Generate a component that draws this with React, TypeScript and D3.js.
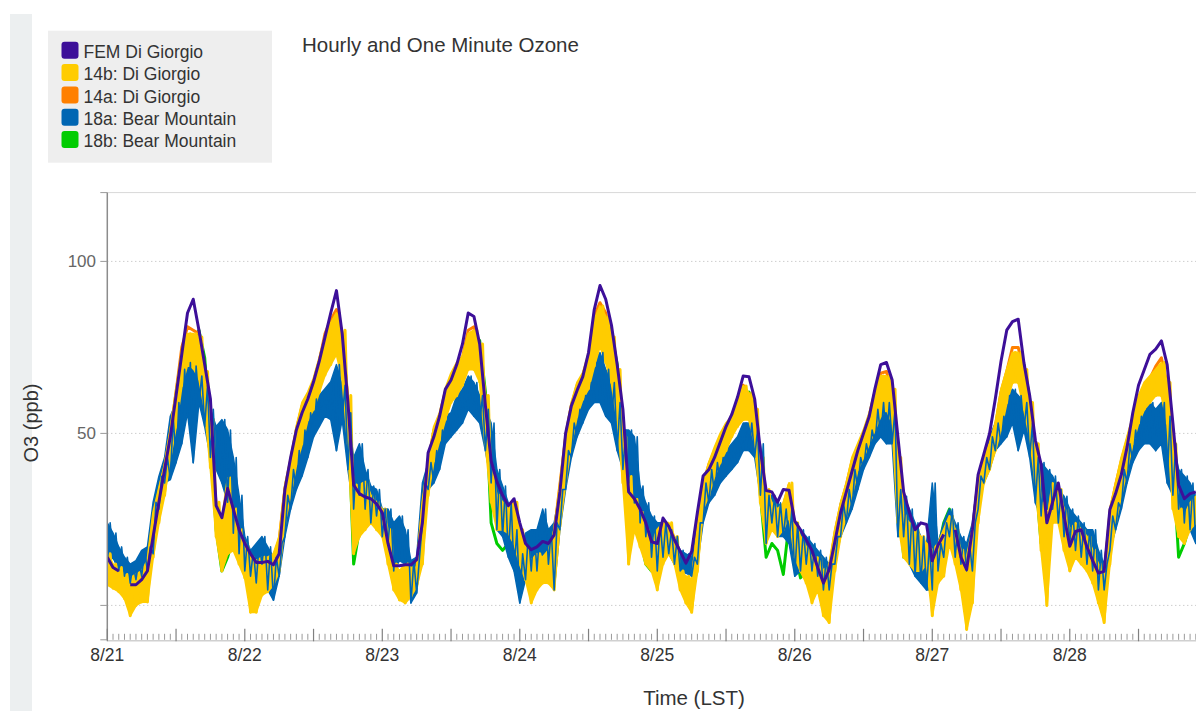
import React from 'react';
import * as d3 from 'd3';

// Day labels for the x axis (one per midnight, starting 8/21 00:00 LST)
const dayLabels = ['8/21', '8/22', '8/23', '8/24', '8/25', '8/26', '8/27', '8/28'];

// FEM Di Giorgio, hourly ozone (ppb), hour 0 = 8/21 00:00; null = missing hour
const femDiGiorgio: (number | null)[] = [
  14, 11, 10, null, 6, 6, 7.5, 10, 20, 30,
  39.5, 49, 61, 73, 85, 89, 80, 70, 60, 29,
  25.5, 34, 28, 22, 18, 15, 12.5, 12.5, 12.8, 11.8,
  15, 33.7, 43, 51, 56, 60, 65, 71, 78, 85,
  91.5, 79, 59, 35, 32.5, 31.5, 31, 29.5, 27, 18,
  11.5, 11.5, 11.8, 11.8, 13.3, 24, 44.4, 49, 55, 62.8,
  65.5, 70, 76, 85, 84, 76, 58, 42, 36, 32,
  29, 31, 24, 18, 16.2, 17, 18.6, 18, 20.5, 33,
  50, 58, 62.5, 66.5, 73.5, 86, 93, 89, 81.5, 70,
  57, 33, 31, 28, 24, 18.5, 18, 25.4, 23, 19,
  15.7, 12.3, 15.7, 27, 37.6, 39.5, 43, 47.5, 52, 55.5,
  60.5, 66.7, 66.5, 60, 45, 33.4, 33, 30, 33.7, 33.5,
  24.5, 22, 19, 16, 11, 6.5, 10.4, 18.5, 27, 33,
  39, 45, 50, 55, 63, 70, 70.6, 65.5, 49, 33,
  27, 22, 24, 23.5, 13, 17.5, 20.6, null, 22, 14,
  10.4, 22, 38, 44, 50, 60, 71, 80, 82.5, 83.2,
  70.5, 61, 48, 41, 24, 30, 35.6, 26, 17.2, 21.5,
  22, 17, 13, 9.4, 9.9, 27.9, 32.5, 38, 46, 56,
  64, 68.5, 73, 74.5, 76.9, 70, 53, 35, 31, 32.5,
  33,
];

// 14b: Di Giorgio, one-minute ozone summarised per hour as (min, max) pairs
const sensor14b: number[] = [
  6, 15, 5, 12, 4, 11, 2, 9, -3, 8, 0, 9, 1, 10, 1, 13, 14, 27, 24, 34,
  32, 41, 43, 51, 52, 63, 64, 74, 70, 79, 69, 79, 66, 78, 57, 68, 40, 54, 20, 30,
  10, 25, 15, 37, 16, 28, 12, 22, 8, 18, -2, 14, -2, 13, 3, 14, 4, 14, 6, 15,
  10, 20, 24, 35, 32, 43, 41, 52, 47, 59, 54, 62, 57, 66, 62, 72, 67, 78, 70, 82,
  73, 85, 66, 80, 47, 61, 15, 35, 20, 35, 22, 36, 24, 32, 22, 30,
  20, 28, 12, 22, 4.5, 12, 1.6, 10, 0.7, 12, 2.6, 11, 5.5, 11, 12, 30, 32, 42, 42, 52,
  48, 56, 54, 63, 59, 67.5, 61, 70.6, 64, 72.5, 68.6, 79, 68.6, 80, 65, 76, 47, 61, 30, 39.5,
  22, 32, 22, 30, 21, 28, 18, 30, 12, 22, 7.5, 17, 0.7, 13, 4.5, 15, 6.5, 14, 6.5, 16,
  4.5, 22, 23, 35.6, 35.6, 50, 47, 59, 55, 64.8, 60, 67.6, 63, 73.5, 69.6, 83, 75.4, 87, 70.6, 84,
  64.8, 78, 54, 68.6, 35.6, 49, 12, 37.5, 22, 30.8, 17, 27, 12, 22, 10, 18,
  4.5, 22, 12, 24, 15, 24, 12, 20, 4.5, 10, 0.7, 8.5, -2, 7.5, 10, 22, 28, 35.6, 32, 41.5,
  37.6, 46, 41.5, 50, 45, 53, 49, 55, 52, 59, 54, 63.8, 54, 61.8, 47, 57, 29.8, 43, 18, 33.7,
  22, 29.8, 20, 28, 22, 29.8, 26, 35.6, 14, 24, 10, 20, 6.5, 17, 0.7, 14, 4.5, 14, -3, 10,
  -5, 12, 10, 22, 20, 29.8, 26, 35.6, 32, 43, 39.5, 47, 43, 51, 47, 56, 51, 62.8, 55, 66.7,
  57, 66.7, 53, 62.8, 24, 43, 14, 26, 12, 24, 10, 22, 10, 20, 12, 18,
  -3, 16, 6.5, 18, 8.5, 22, 18, 26, 12, 22, 4.5, 16, -7, 14, 0.7, 22, 24, 37.6, 35.6, 43,
  39.5, 47, 45, 53, 51, 62.8, 59, 68.6, 64.8, 73.5, 64.8, 73.5, 57, 68.6, 49, 59, 35.6, 47, 16, 29.8,
  0, 24, 24, 35.6, 24, 33.7, 16, 28, 10, 22, 14, 24, 12, 22, 10, 20, 6.5, 16, 0.7, 12,
  -5, 10, 12, 28, 24, 35.6, 32, 43, 39.5, 49, 47, 55, 53, 61, 57, 64.8, 59, 66.7, 61, 68.6,
  61, 70.6, 53, 64.8, 28, 47, 20, 28, 18, 26, 22, 29.8, 24, 31.7,
];

// 14a: Di Giorgio, one-minute ozone, hourly reading
const sensor14a: number[] = [
  14, 11, 10, 7, 4, 7, 8, 11, 25, 33, 40, 50, 62, 75, 81, 80, 79, 68, 53, 29,
  22, 34, 27, 21, 16, 12, 11, 13, 13, 14, 19, 34, 42, 51, 58, 61, 65, 71, 79, 83,
  86, 79, 60, 33, 34, 35, 31, 29,
  27, 21, 11, 9, 10, 10, 10, 28, 41, 51, 55, 62, 66, 70, 72, 80, 81, 75, 60, 38,
  31, 29, 27, 29, 21, 16, 12, 14, 13, 15, 21, 35, 49, 58, 64, 67, 72, 84, 88, 85,
  77, 67, 48, 35, 30, 26, 21, 17,
  21, 23, 23, 19, 9, 7, 6, 21, 35, 41, 45, 49, 52, 55, 58, 64, 61, 56, 42, 32,
  29, 27, 29, 35, 23, 19, 16, 13, 13, 9, 10, 21, 29, 35, 42, 46, 50, 55, 62, 67.5,
  68, 62, 42, 25, 23, 21, 19, 17,
  15, 17, 21, 25, 21, 15, 12, 21, 37, 42, 46, 52, 62, 68, 75, 75, 68, 58, 46, 29,
  23, 35, 33, 27, 21, 23, 21, 19, 15, 11, 8, 27, 35, 42, 48, 54, 60, 64, 66, 69.5,
  72, 64, 46, 27, 25, 29, 31,
];

// 18a: Bear Mountain, one-minute ozone summarised per hour as (min, max) pairs
const sensor18a: number[] = [
  12, 24, 14, 21, 10, 17, 8.5, 14, 6.5, 12, 7.5, 13, 8.5, 16, 10, 17, 15, 30, 28, 37.5,
  35.6, 43, 36.6, 55, 41.5, 59, 47, 68.6, 56, 70.6, 41.5, 69.6, 59, 66.7, 52, 64, 43, 57, 39.5, 52,
  35.6, 54, 30, 51, 21, 43, 15, 32, 10, 20, 8.5, 16, 6.5, 18, 12, 20, 4.5, 17, 1.5, 14,
  8.5, 18, 20, 32, 28, 39.5, 33.7, 45, 37.6, 51, 43, 56, 49, 60, 52, 61, 55, 63, 54, 65,
  45, 70, 54, 64, 39.5, 56, 28, 43, 32, 47, 28, 39.5, 24, 34.7, 26, 33.7,
  20, 28, 18, 28, 10, 24, 13, 26, 12, 22, 0.7, 13, 3.6, 14, 24, 35.6, 33.7, 41.5, 35.6, 45,
  39.5, 51, 47, 55, 49, 56, 51, 61, 53, 62.8, 57, 66.7, 55, 64.8, 53, 61, 45, 57, 35.6, 53,
  22, 39.5, 20, 34.7, 14, 29.8, 10, 22, 0.7, 15, 7.5, 21, 10, 22, 10, 22, 15, 28, 12, 22,
  4.5, 24, 22, 33.7, 33.7, 45, 43, 53, 49, 57, 53, 61, 57, 64.8, 59, 70.6, 59, 73.5, 55, 68.6,
  53, 64.8, 45, 59, 39.5, 51, 35.6, 51, 29.8, 49, 24, 34.7, 20, 29.8, 14, 26,
  10, 24, 14, 24, 15, 22, 12, 20, 10, 16, 9.4, 15, 8.5, 14, 12, 24, 24, 35.6, 29.8, 39.5,
  32, 41.5, 35.6, 43, 37.6, 45, 39.5, 47, 41.5, 49, 45, 53, 45, 53, 43, 51, 32, 47, 18, 32,
  24, 32, 20, 29.8, 20, 28, 18, 28, 8.5, 24, 10, 22, 12, 20, 10, 18, 8.5, 16, 4.5, 14,
  4.5, 12, 12, 20, 20, 29.8, 24, 33.7, 28, 39.5, 33.7, 43, 39.5, 47, 43, 51, 47, 57, 49, 59,
  47, 59, 47, 57, 20, 33.7, 20, 31.7, 12, 28, 8.5, 24, 6.5, 20, 4.5, 18,
  4.5, 35.6, 10, 18, 14, 24, 20, 28, 14, 24, 12, 20, 10, 18, 10, 24, 28, 37.6, 35.6, 43,
  39.5, 49, 45, 53, 47, 55, 49, 61, 53, 62.8, 45, 61, 51, 59, 43, 53, 29.8, 43, 26, 41.5,
  28, 39.5, 28, 37.6, 24, 33.7, 20, 31.7, 18, 28, 16, 26, 14, 24, 12, 22, 10, 22, 4.5, 16,
  4.5, 12, 16, 26, 22, 29.8, 28, 39.5, 35.6, 47, 41.5, 51, 45, 55, 47, 57, 47, 59, 45, 57,
  47, 59, 35.6, 55, 32, 47, 28, 39.5, 24, 37.6, 22, 35.6, 18, 31.7,
];

// 18b: Bear Mountain, one-minute ozone, hourly reading
const sensor18b: number[] = [
  16, 14, 12, 9, 7, 8, 9, 10, 18, 28, 36, 46, 56, 66, 73, 76, 80, 72, 50, 22,
  10, 14, 20, 16, 12, 8, 9, 13, 14, 14, 16, 28, 38, 47, 54, 58, 62, 66, 72, 76,
  80, 75, 58, 12, 22, 24, 25, 25,
  24, 18, 10, 6, 8, 8, 9, 22, 36, 47, 53, 60, 64, 67, 70, 76, 78, 77, 62, 24,
  18, 16, 18, 15, 12, 8, 6, 8, 9, 11, 16, 30, 44, 55, 62, 65, 70, 78, 84, 84,
  79, 70, 52, 22, 22, 20, 12, 10,
  16, 24, 22, 18, 10, 6, 5, 18, 32, 38, 43, 47, 51, 54, 57, 61, 62, 58, 32, 14,
  18, 16, 9, 24, 16, 8, 10, 10, 9, 6, 8, 20, 28, 34, 41, 46, 50, 55, 60, 64,
  66, 64, 40, 14, 16, 20, 18, 16,
  12, 16, 24, 28, 22, 15, 10, 20, 34, 42, 46, 52, 58, 66, 70, 72, 70, 60, 38, 18,
  20, 34, 30, 26, 22, 24, 21, 18, 14, 10, 8, 24, 32, 40, 46, 52, 58, 62, 64, 66,
  67, 62, 42, 14, 18, 24, 26,
];

const seriesInfo = [
  { name: 'FEM Di Giorgio', color: '#3d0f99' },
  { name: '14b: Di Giorgio', color: '#ffcc00' },
  { name: '14a: Di Giorgio', color: '#ff8000' },
  { name: '18a: Bear Mountain', color: '#0066b3' },
  { name: '18b: Bear Mountain', color: '#00cc00' },
];

const yTicks = [0, 50, 100];

const FONT = '"Liberation Sans", Arial, Helvetica, sans-serif';

type Pt = { h: number; v: number | null };
type Range = { h: number; lo: number; hi: number };

function hourly(values: (number | null)[]): Pt[] {
  return values.map((v, i) => ({ h: i, v }));
}

function pairs(values: number[]): Range[] {
  return d3.range(values.length / 2).map((i) => ({ h: i, lo: values[2 * i], hi: values[2 * i + 1] }));
}

// trace through each hour's minimum (on the hour) and maximum (half past)
function zigzag(values: number[]): Pt[] {
  return values.map((v, i) => ({ h: Math.floor(i / 2) + (i % 2) * 0.5, v }));
}

export default function App() {
  const W = 1196;
  const H = 711;
  const left = 107.3;
  const top = 192.6;
  const bottom = 639.8;

  const x = d3.scaleLinear().domain([0, 192]).range([left, left + 192 * 5.729]);
  const y = d3.scaleLinear().domain([-10, 120]).range([bottom, top]);

  const line = d3
    .line<Pt>()
    .defined((d) => d.v !== null)
    .x((d) => x(d.h))
    .y((d) => y(d.v as number));

  const band = d3
    .area<Range>()
    .x((d) => x(d.h))
    .y0((d) => y(d.lo))
    .y1((d) => y(d.hi));

  const hoursAll = d3.range(0, 193);
  const majorHours = hoursAll.filter((h) => h % 12 === 0);
  const minorHours = hoursAll.filter((h) => h % 12 !== 0);

  const legendRows = seriesInfo.map((s, i) => ({ ...s, y: 41.7 + i * 22.35 }));

  const yellow = seriesInfo[1].color;
  const orange = seriesInfo[2].color;
  const blue = seriesInfo[3].color;
  const green = seriesInfo[4].color;
  const purple = seriesInfo[0].color;

  return (
    <svg
      width={W}
      height={H}
      viewBox={`0 0 ${W} ${H}`}
      style={{ position: 'absolute', left: 0, top: 0, background: '#ffffff', fontFamily: FONT }}
    >
      <defs>
        <clipPath id="plot-clip">
          <rect x={left} y={top - 2} width={W - left} height={bottom - top + 2} />
        </clipPath>
      </defs>

      <rect x={0} y={0} width={W} height={H} fill="#ffffff" />
      {/* side strip */}
      <rect x={10} y={14} width={22} height={H - 14} fill="#eceff0" />

      {/* legend */}
      <rect x={48} y={30.7} width={224} height={132} fill="#eeeeee" />
      {legendRows.map((r) => (
        <g key={r.name}>
          <rect x={61.5} y={r.y} width={17} height={17} rx={3} fill={r.color} />
          <text x={83.5} y={r.y + 16.3} fontSize={17.5} fill="#333">
            {r.name}
          </text>
        </g>
      ))}

      {/* title */}
      <text x={302} y={52} fontSize={20.5} fill="#333">
        Hourly and One Minute Ozone
      </text>

      {/* plot frame top and grid */}
      <line x1={left} x2={W} y1={top} y2={top} stroke="#d8d8d8" strokeWidth={1} />
      {yTicks.map((t) => (
        <line
          key={`g${t}`}
          x1={left}
          x2={W}
          y1={y(t)}
          y2={y(t)}
          stroke="#b8b8b8"
          strokeWidth={1}
          strokeDasharray="1,3"
        />
      ))}

      {/* series */}
      <g clipPath="url(#plot-clip)">
        <path d={line(hourly(sensor18b)) || ''} fill="none" stroke={green} strokeWidth={3} strokeLinejoin="round" />
        <path d={band(pairs(sensor18a)) || ''} fill={blue} stroke={blue} strokeWidth={1.5} strokeLinejoin="round" />
        <path d={line(hourly(sensor14a)) || ''} fill="none" stroke={orange} strokeWidth={3} strokeLinejoin="round" />
        <path d={band(pairs(sensor14b)) || ''} fill={yellow} stroke={yellow} strokeWidth={2} strokeLinejoin="round" />
        <path d={line(zigzag(sensor14b)) || ''} fill="none" stroke={yellow} strokeWidth={3} strokeLinejoin="round" />
        <path d={line(zigzag(sensor18a)) || ''} fill="none" stroke={blue} strokeWidth={1.6} strokeLinejoin="round" />
        <path d={line(hourly(femDiGiorgio)) || ''} fill="none" stroke={purple} strokeWidth={3} strokeLinejoin="round" />
      </g>

      {/* y axis */}
      <line x1={left} x2={left} y1={top} y2={bottom} stroke="#8c8c8c" strokeWidth={1.5} />
      {[...yTicks, -10, 120].map((t) => (
        <line key={`yt${t}`} x1={left - 7} x2={left} y1={y(t)} y2={y(t)} stroke="#9a9a9a" strokeWidth={1} />
      ))}
      {yTicks
        .filter((t) => t !== 0)
        .map((t) => (
          <text key={`yl${t}`} x={96} y={y(t)} dy="0.35em" textAnchor="end" fontSize={17} fill="#666">
            {t}
          </text>
        ))}
      <text transform="translate(38, 423) rotate(-90)" textAnchor="middle" fontSize={20} fill="#333">
        O3 (ppb)
      </text>

      {/* x axis */}
      <line x1={left} x2={W} y1={bottom + 1} y2={bottom + 1} stroke="#d0d0d0" strokeWidth={1.5} />
      {minorHours.map((h) => (
        <line key={`mn${h}`} x1={x(h)} x2={x(h)} y1={bottom - 6} y2={bottom} stroke="#9a9a9a" strokeWidth={1} />
      ))}
      {majorHours.map((h) => (
        <line key={`mj${h}`} x1={x(h)} x2={x(h)} y1={bottom - 11} y2={bottom + 1.5} stroke="#808080" strokeWidth={1.2} />
      ))}
      {dayLabels.map((lab, i) => (
        <text key={lab} x={x(i * 24)} y={661} textAnchor="middle" fontSize={17.5} fill="#333">
          {lab}
        </text>
      ))}
      <text x={694} y={705} textAnchor="middle" fontSize={20.5} fill="#333">
        Time (LST)
      </text>
    </svg>
  );
}
